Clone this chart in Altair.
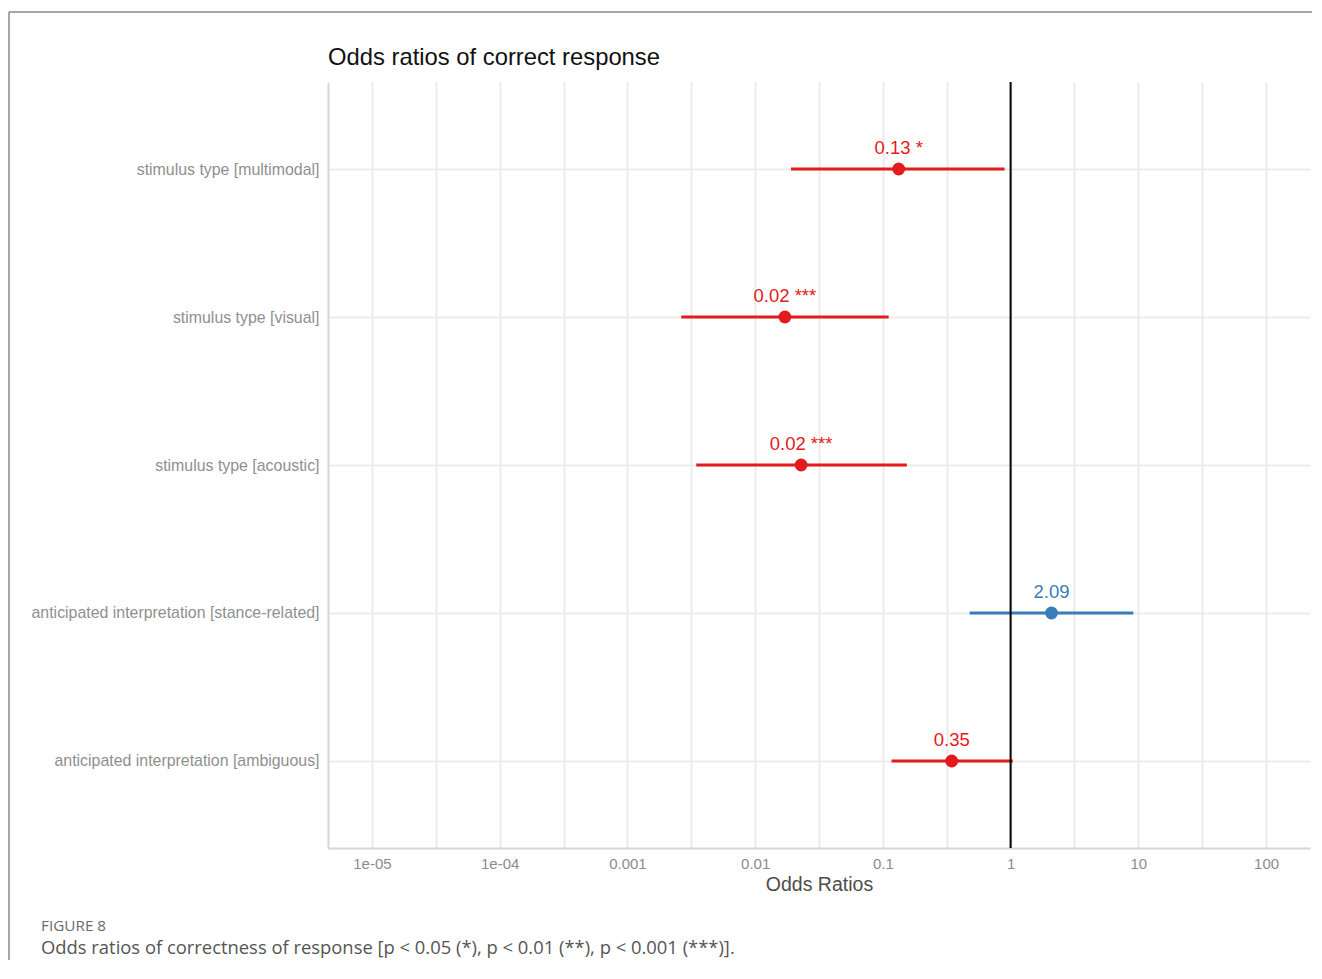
import altair as alt
import pandas as pd
import math

# ---- data ----
terms = [
    "stimulus type [multimodal]",
    "stimulus type [visual]",
    "stimulus type [acoustic]",
    "anticipated interpretation [stance-related]",
    "anticipated interpretation [ambiguous]",
]
estimates = [0.133, 0.0171, 0.0229, 2.09, 0.346]
ci_low = [0.0191, 0.00264, 0.00346, 0.478, 0.117]
ci_high = [0.897, 0.111, 0.154, 9.14, 1.04]
value_labels = ["0.13 *", "0.02 ***", "0.02 ***", "2.09", "0.35"]
direction = ["negative", "negative", "negative", "positive", "negative"]

major_ticks = [1e-05, 1e-04, 0.001, 0.01, 0.1, 1, 10, 100]
major_labels = ["1e-05", "1e-04", "0.001", "0.01", "0.1", "1", "10", "100"]

df = pd.DataFrame({
    "term": terms,
    "estimate": estimates,
    "low": ci_low,
    "high": ci_high,
    "label": value_labels,
    "group": direction,
})

# grid at majors and half-decades
grid_values = []
for i, v in enumerate(major_ticks):
    grid_values.append(v)
    if i < len(major_ticks) - 1:
        grid_values.append(v * math.sqrt(10))

label_expr = ""
for v, lab in zip(major_ticks, major_labels):
    label_expr += f"abs(log(datum.value)/LN10 - ({round(math.log10(v))})) < 0.01 ? '{lab}' : "
label_expr += "''"

W, H = 982, 766
PAD_L, PAD_T, PAD_R, PAD_B = 320, 74, 2, 112

xdomain = [10 ** -5.344, 10 ** 2.344]

xscale = alt.Scale(type="log", domain=xdomain, nice=False, zero=False)
yscale = alt.Scale(type="point", domain=terms, padding=0.588)
color_scale = alt.Scale(domain=["negative", "positive"], range=["#e41a1c", "#377eb8"])

base = alt.Chart(df)

x_axis = alt.Axis(
    values=grid_values, labelExpr=label_expr, title="Odds Ratios",
    grid=True, gridColor="#ebebeb", gridWidth=2, ticks=False,
    domain=True, domainColor="#d6d6d6", domainWidth=2,
    labelColor="#8c8c8c", labelFontSize=15, labelPadding=8,
    labelFont="Liberation Sans", titleFont="Liberation Sans",
    titleFontSize=19.5, titleColor="#4d4d4d", titleFontWeight="normal", titlePadding=4,
)
y_axis = alt.Axis(
    title=None, grid=True, gridColor="#ebebeb", gridWidth=2, ticks=False,
    domain=True, domainColor="#d6d6d6", domainWidth=2,
    labelColor="#8f8f8f", labelFontSize=15.9, labelPadding=9,
    labelFont="Liberation Sans", labelLimit=400,
)

bars = base.mark_rule(strokeWidth=3).encode(
    x=alt.X("low:Q", scale=xscale, axis=x_axis),
    x2="high:Q",
    y=alt.Y("term:N", scale=yscale, axis=y_axis, sort=terms),
    color=alt.Color("group:N", scale=color_scale, legend=None),
)

ref = alt.Chart(pd.DataFrame({"v": [1]})).mark_rule(color="black", strokeWidth=2).encode(
    x=alt.X("v:Q", scale=xscale),
)

points = base.mark_circle(size=165, opacity=1).encode(
    x=alt.X("estimate:Q", scale=xscale),
    y=alt.Y("term:N", scale=yscale, sort=terms),
    color=alt.Color("group:N", scale=color_scale, legend=None),
)

texts = base.mark_text(fontSize=18.5, dy=-15, baseline="alphabetic", font="Liberation Sans").encode(
    x=alt.X("estimate:Q", scale=xscale),
    y=alt.Y("term:N", scale=yscale, sort=terms),
    text="label:N",
    color=alt.Color("group:N", scale=color_scale, legend=None),
)

one = pd.DataFrame({"a": [0]})
frame_top = alt.Chart(one).mark_rule(color="#8a8a8a", strokeWidth=1.5).encode(
    x=alt.value(-319), x2=alt.value(W + PAD_R), y=alt.value(-70),
)
frame_left = alt.Chart(one).mark_rule(color="#8a8a8a", strokeWidth=1.5).encode(
    x=alt.value(-319), y=alt.value(-70), y2=alt.value(H + PAD_B),
)
title_txt = alt.Chart(one).mark_text(
    text="Odds ratios of correct response", align="left", baseline="middle",
    fontSize=23.8, font="Liberation Sans", color="#111111",
).encode(x=alt.value(0), y=alt.value(58 - 82))
cap1 = alt.Chart(one).mark_text(
    text="FIGURE 8", align="left", baseline="middle", fontSize=15.3,
    font="Open Sans", color="#6b6b6b",
).encode(x=alt.value(41 - 328), y=alt.value(926 - 82))
cap2 = alt.Chart(one).mark_text(
    text="Odds ratios of correctness of response [p < 0.05 (*), p < 0.01 (**), p < 0.001 (***)].",
    align="left", baseline="middle", fontSize=18.4, font="Open Sans", color="#555555",
).encode(x=alt.value(41 - 328), y=alt.value(948 - 82))

chart = alt.layer(frame_top, frame_left, bars, ref, points, texts, title_txt, cap1, cap2).properties(
    width=W, height=H,
    autosize=alt.AutoSizeParams(type="none"),
    padding={"left": PAD_L, "top": PAD_T, "right": PAD_R, "bottom": PAD_B},
).configure_view(stroke=None).resolve_scale(x="shared", y="shared")

chart.save("out.html", embed_options={"renderer": "svg", "actions": False})
